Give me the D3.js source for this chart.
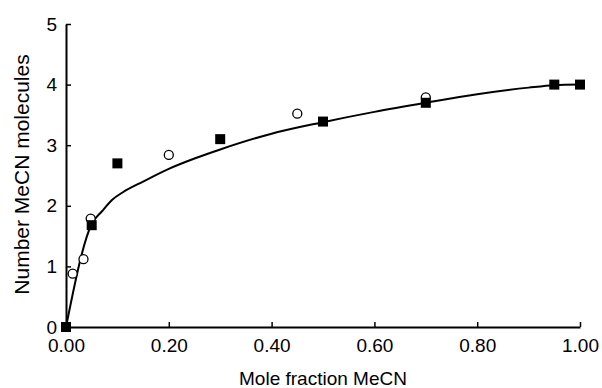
<!DOCTYPE html>
<html>
<head>
<meta charset="utf-8">
<script src="https://d3js.org/d3.v7.min.js"></script>
<style>
  body { margin: 0; background: #fff; }
  svg { display: block; font-family: "Liberation Sans", Arial, sans-serif; }
</style>
</head>
<body>
<div id="graph"></div>
<script>
// filled squares
const squareX = [0, 0.05, 0.10, 0.30, 0.50, 0.70, 0.95, 1.00]
const squareY = [0, 1.68, 2.70, 3.10, 3.39, 3.70, 4.00, 4.00]
// open circles
const circleX = [0.013, 0.034, 0.048, 0.20, 0.45, 0.70]
const circleY = [0.88, 1.12, 1.79, 2.84, 3.52, 3.79]
// fitted curve
const curveX = [0, 0.05, 0.07, 0.09, 0.11, 0.15, 0.20, 0.25, 0.30, 0.40, 0.50, 0.60, 0.70, 0.80, 0.90, 0.95, 1.00]
const curveY = [0, 1.70, 1.91, 2.10, 2.22, 2.40, 2.61, 2.78, 2.93, 3.19, 3.38, 3.55, 3.70, 3.84, 3.95, 3.99, 4.00]

const xTicks = [0, 0.2, 0.4, 0.6, 0.8, 1.0]
const yTicks = [0, 1, 2, 3, 4, 5]
const xTitle = 'Mole fraction MeCN'
const yTitle = 'Number MeCN molecules'

const width = 602, height = 388
const plotLeft = 66, plotRight = 580, plotTop = 24, plotBottom = 327

const svg = d3.select('#graph').append('svg')
    .attr('width', width)
    .attr('height', height)

const xScale = d3.scaleLinear().domain([0, 1]).range([plotLeft, plotRight])
const yScale = d3.scaleLinear().domain([0, 5]).range([plotBottom, plotTop])

const xAxis = svg.append('g')
    .attr('transform', `translate(0, ${plotBottom})`)
    .call(d3.axisBottom(xScale).tickValues(xTicks).tickFormat(d3.format('.2f'))
        .tickSizeInner(-5).tickSizeOuter(0).tickPadding(12))
xAxis.select('.domain').attr('stroke-width', 2)
xAxis.selectAll('.tick line').attr('stroke-width', 1.5)
xAxis.selectAll('text').attr('font-size', 19).attr('fill', '#000')

const yAxis = svg.append('g')
    .attr('transform', `translate(${plotLeft}, 0)`)
    .call(d3.axisLeft(yScale).tickValues(yTicks).tickFormat(d3.format('d'))
        .tickSizeInner(-5).tickSizeOuter(0).tickPadding(9))
yAxis.select('.domain').attr('stroke-width', 2)
yAxis.selectAll('.tick line').attr('stroke-width', 1.5)
yAxis.selectAll('text').attr('font-size', 19).attr('fill', '#000')

const curve = curveX.map((x, i) => [x, curveY[i]])
svg.append('path')
    .datum(curve)
    .attr('fill', 'none')
    .attr('stroke', '#000')
    .attr('stroke-width', 2)
    .attr('stroke-linejoin', 'round')
    .attr('d', d3.line().x(d => xScale(d[0])).y(d => yScale(d[1])).curve(d3.curveMonotoneX))

svg.selectAll('.circ')
    .data(circleX.map((x, i) => [x, circleY[i]]))
    .enter()
    .append('circle')
    .attr('cx', d => xScale(d[0]))
    .attr('cy', d => yScale(d[1]))
    .attr('r', 4.5)
    .attr('fill', '#fff')
    .attr('stroke', '#000')
    .attr('stroke-width', 1.3)

svg.selectAll('.sq')
    .data(squareX.map((x, i) => [x, squareY[i]]))
    .enter()
    .append('rect')
    .attr('x', d => xScale(d[0]) - 5)
    .attr('y', d => yScale(d[1]) - 5)
    .attr('width', 10)
    .attr('height', 10)
    .attr('fill', '#000')

svg.append('text')
    .attr('x', (plotLeft + plotRight) / 2)
    .attr('y', 385)
    .attr('text-anchor', 'middle')
    .attr('font-size', 19)
    .text(xTitle)

svg.append('text')
    .attr('transform', `translate(29, ${(plotTop + plotBottom) / 2 - 1}) rotate(-90)`)
    .attr('text-anchor', 'middle')
    .attr('font-size', 21)
    .text(yTitle)
</script>
</body>
</html>
